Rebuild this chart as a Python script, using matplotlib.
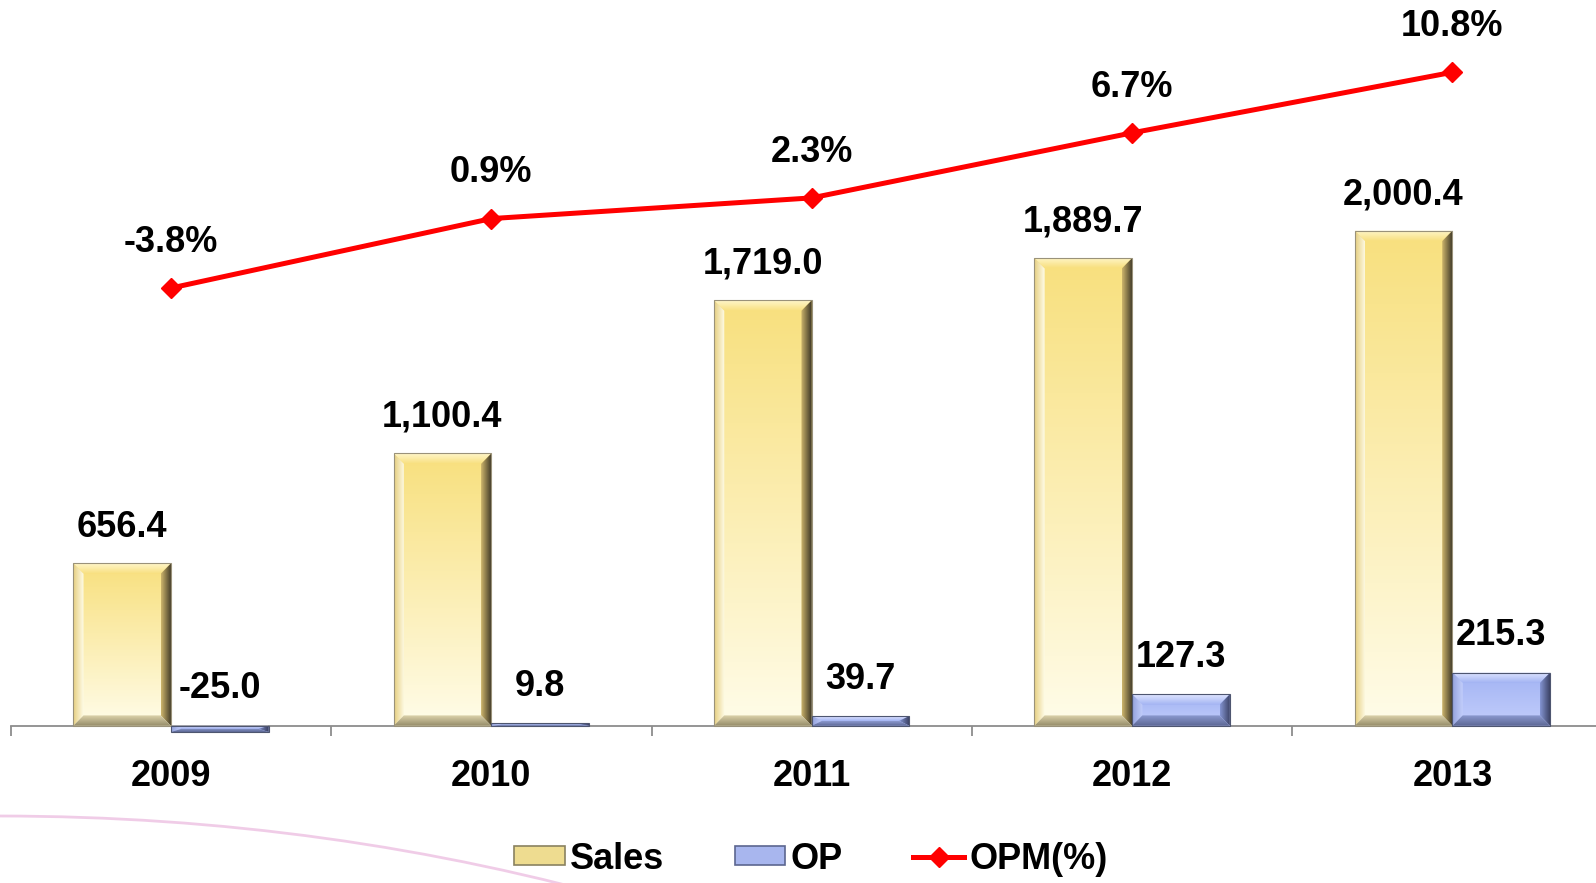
import numpy as np
import matplotlib
matplotlib.use("Agg")
import matplotlib.pyplot as plt
from matplotlib.colors import LinearSegmentedColormap
from matplotlib.patches import Polygon, Patch, PathPatch
from matplotlib.path import Path
from matplotlib.lines import Line2D

plt.rcParams['font.family'] = ['Liberation Sans', 'DejaVu Sans']
plt.rcParams['font.weight'] = 'bold'

years = ['2009', '2010', '2011', '2012', '2013']
sales = [656.4, 1100.4, 1719.0, 1889.7, 2000.4]
op = [-25.0, 9.8, 39.7, 127.3, 215.3]
opm = [-3.8, 0.9, 2.3, 6.7, 10.8]

sales_labels = ['656.4', '1,100.4', '1,719.0', '1,889.7', '2,000.4']
op_labels = ['-25.0', '9.8', '39.7', '127.3', '215.3']
opm_labels = ['-3.8%', '0.9%', '2.3%', '6.7%', '10.8%']

FS = 26
BX = 0.032   # bevel width in x units
BY = 42      # bevel height in y units


def grad_fill(ax, verts, c0, c1, extent, horizontal=False, z=3):
    cmap = LinearSegmentedColormap.from_list('g', [c0, c1])
    g = np.linspace(0, 1, 64)
    arr = g.reshape(1, -1) if horizontal else g.reshape(-1, 1)
    im = ax.imshow(arr, extent=extent, origin='lower', cmap=cmap,
                   aspect='auto', zorder=z, interpolation='bilinear')
    poly = Polygon(verts, closed=True, facecolor='none', edgecolor='none',
                   transform=ax.transData)
    im.set_clip_path(poly)


def bevel_bar(ax, patch, sty):
    x0 = patch.get_x()
    w = patch.get_width()
    y0 = min(patch.get_y(), patch.get_y() + patch.get_height())
    h = abs(patch.get_height())
    x1, y1 = x0 + w, y0 + h
    bx, by = min(BX, w / 2), min(BY, h / 2)
    patch.set_visible(False)
    ext = (x0, x1, y0, y1)
    # face
    grad_fill(ax, [(x0, y0), (x1, y0), (x1, y1), (x0, y1)],
              sty['bot'], sty['top'], ext)
    # top bevel
    grad_fill(ax, [(x0, y1), (x1, y1), (x1 - bx, y1 - by), (x0 + bx, y1 - by)],
              sty['top'], sty['light'], (x0, x1, y1 - by, y1), z=4)
    # left bevel
    grad_fill(ax, [(x0, y0), (x0, y1), (x0 + bx, y1 - by), (x0 + bx, y0 + by)],
              sty['left'], sty['bot'], (x0, x0 + bx, y0, y1), horizontal=True, z=4)
    # right bevel
    grad_fill(ax, [(x1, y0), (x1, y1), (x1 - bx, y1 - by), (x1 - bx, y0 + by)],
              sty['rin'], sty['rout'], (x1 - bx, x1, y0, y1), horizontal=True, z=4)
    # bottom bevel
    grad_fill(ax, [(x0, y0), (x1, y0), (x1 - bx, y0 + by), (x0 + bx, y0 + by)],
              sty['bout'], sty['bin'], (x0, x1, y0, y0 + by), z=4)
    ax.add_patch(Polygon([(x0, y0), (x1, y0), (x1, y1), (x0, y1)], closed=True,
                         facecolor='none', edgecolor=sty['edge'], lw=0.8, zorder=5))


sales_style = dict(top='#F8E07E', bot='#FFFCE8', light='#FFF6CC', left='#E6CF80',
                   rin='#CDB56C', rout='#3A3424', bin='#DDD4AC', bout='#958B68',
                   edge='#9A927A')
op_style = dict(top='#A2B3F3', bot='#C3CEFC', light='#E0E6FF', left='#93A2DC',
                rin='#8494D2', rout='#363C5C', bin='#8C9AD0', bout='#5C6794',
                edge='#4E5670')

fig = plt.figure(figsize=(15.96, 8.83), dpi=100)

# decorative swoosh
bg = fig.add_axes([0, 0, 1, 1], zorder=-5)
bg.set_xlim(0, 1596)
bg.set_ylim(883, 0)
bg.axis('off')
swoosh = Path([(0, 816), (330, 816), (640, 905)], [Path.MOVETO, Path.CURVE3, Path.CURVE3])
bg.add_patch(PathPatch(swoosh, facecolor='none', edgecolor='#EBBCE0', lw=2.0, alpha=0.75))

ax = fig.add_axes([0.00676, 0.16195, 1.00367, 0.83805])
x = np.arange(len(years))
bw = 0.305
off = 0.1525

b1 = ax.bar(x - off, sales, bw)
b2 = ax.bar(x + off, op, bw)
for p in b1:
    bevel_bar(ax, p, sales_style)
for p in b2:
    bevel_bar(ax, p, op_style)

ax.set_xlim(-0.5, len(years) - 0.5)
ax.set_ylim(-57.4, 2932.5)

for s in ['top', 'left', 'right']:
    ax.spines[s].set_visible(False)
ax.spines['bottom'].set_position(('data', 0))
ax.spines['bottom'].set_color('#8C8C8C')
ax.spines['bottom'].set_linewidth(1.3)
ax.spines['bottom'].set_zorder(1)
ax.set_yticks([])
ax.set_xticks(np.arange(len(years) + 1) - 0.5)
ax.set_xticklabels([])
ax.tick_params(axis='x', which='major', length=7, width=1.3, color='#8C8C8C', direction='out')
ax.set_xticks(x, minor=True)
ax.set_xticklabels(years, minor=True, fontsize=FS, fontweight='bold')
ax.tick_params(axis='x', which='minor', length=0, pad=24)

for xi, v, t in zip(x, sales, sales_labels):
    ax.annotate(t, (xi - off, v), xytext=(0, 26), textcoords='offset points',
                ha='center', va='center', fontsize=FS, fontweight='bold')
for xi, v, t in zip(x, op, op_labels):
    ax.annotate(t, (xi + off, max(v, 0)), xytext=(0, 26.5), textcoords='offset points',
                ha='center', va='center', fontsize=FS, fontweight='bold')

ax2 = ax.twinx()
ax2.set_ylim(-34.38, 15.69)
ax2.axis('off')
ax2.plot(x, opm, color='#FF0000', lw=3.6, marker='D', markersize=10, zorder=6)
for xi, v, t in zip(x, opm, opm_labels):
    ax2.annotate(t, (xi, v), xytext=(0, 33), textcoords='offset points',
                 ha='center', va='center', fontsize=FS, fontweight='bold')

handles = [Patch(facecolor='#EEDC90', edgecolor='#8A8260', lw=1.2),
           Patch(facecolor='#A8B6EE', edgecolor='#5C6690', lw=1.2),
           Line2D([0], [0], color='#FF0000', lw=3.6, marker='D', markersize=10)]
fig.legend(handles, ['Sales', 'OP', 'OPM(%)'], loc='center', ncol=3,
           bbox_to_anchor=(0.508, 0.027), bbox_transform=fig.transFigure,
           frameon=False, prop={'weight': 'bold', 'size': FS}, borderpad=0.1,
           handlelength=1.4, handleheight=0.45, handletextpad=0.15, columnspacing=1.95)

fig.savefig('out.png', dpi=100)
